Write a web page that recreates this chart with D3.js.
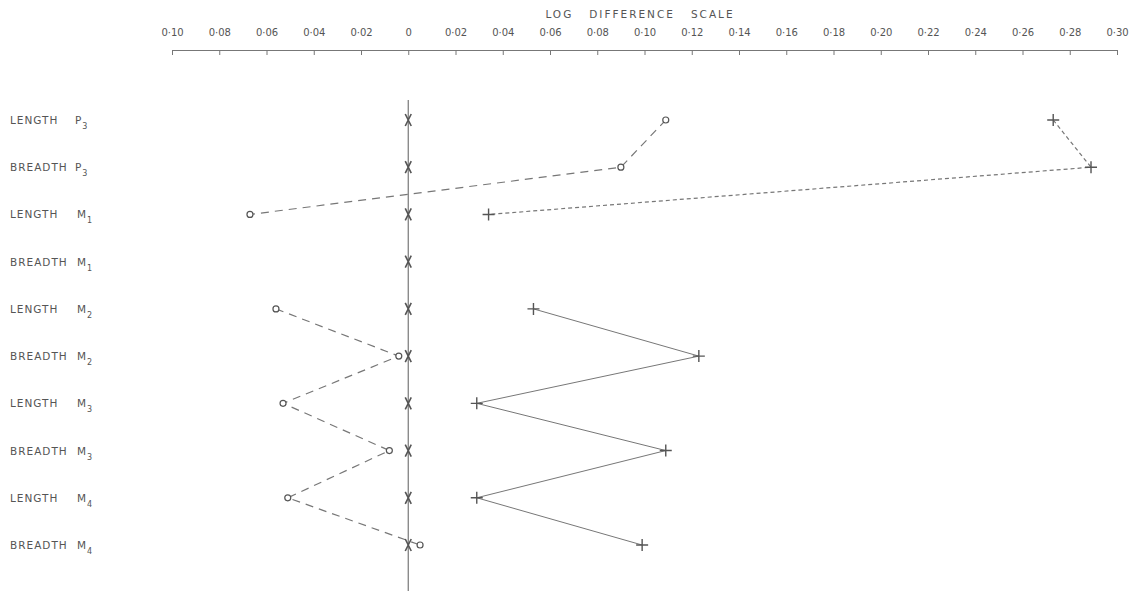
<!DOCTYPE html>
<html>
<head>
<meta charset="utf-8">
<script src="https://cdn.jsdelivr.net/npm/d3@7"></script>
<style>
  body { margin: 0; background: #fff; }
  svg text { font-family: "DejaVu Sans", sans-serif; fill: #555; }
</style>
</head>
<body>
<svg id="chart"></svg>
<script>
// rows, top to bottom
const measures = ["LENGTH", "BREADTH", "LENGTH", "BREADTH", "LENGTH", "BREADTH", "LENGTH", "BREADTH", "LENGTH", "BREADTH"];
const teeth = ["P", "P", "M", "M", "M", "M", "M", "M", "M", "M"];
const toothNums = ["3", "3", "1", "1", "2", "2", "3", "3", "4", "4"];

// log differences (null = no value)
const circleValues = [0.109, 0.090, -0.067, null, -0.056, -0.004, -0.053, -0.008, -0.051, 0.005];
const crossValues = [0.273, 0.289, 0.034, null, 0.053, 0.123, 0.029, 0.109, 0.029, 0.099];
const zeroValues = [0, 0, 0, 0, 0, 0, 0, 0, 0, 0];

const tickValues = [-0.10, -0.08, -0.06, -0.04, -0.02, 0, 0.02, 0.04, 0.06, 0.08, 0.10, 0.12, 0.14, 0.16, 0.18, 0.20, 0.22, 0.24, 0.26, 0.28, 0.30];

drawChart();

function drawChart() {
  const svgWidth = 1142;
  const svgHeight = 591;

  const svg = d3.select("#chart")
    .attr("width", svgWidth)
    .attr("height", svgHeight);

  const xScale = d3.scaleLinear()
    .domain([-0.10, 0.30])
    .range([172, 1117]);

  const yScale = d3.scalePoint()
    .domain(d3.range(measures.length))
    .range([120, 545]);

  const grey = "#777";

  // title
  svg.append("text")
    .attr("x", 640)
    .attr("y", 18)
    .attr("text-anchor", "middle")
    .attr("xml:space", "preserve")
    .style("white-space", "pre")
    .style("font-size", "10.5px")
    .style("letter-spacing", "2px")
    .text("LOG   DIFFERENCE   SCALE");

  // axis along the top, ticks hanging down, labels above
  const xAxis = d3.axisBottom(xScale)
    .tickValues(tickValues)
    .tickSize(5)
    .tickSizeOuter(0)
    .tickFormat(d => d === 0 ? "0" : d3.format(".2f")(Math.abs(d)).replace(".", "\u00b7"));

  const gx = svg.append("g")
    .attr("transform", "translate(0,50)")
    .call(xAxis);
  gx.select(".domain").attr("stroke", grey);
  gx.selectAll(".tick line").attr("stroke", grey);
  gx.selectAll(".tick text")
    .attr("y", -14)
    .attr("dy", 0)
    .style("font-size", "10px")
    .style("fill", "#555");

  // zero line
  svg.append("line")
    .attr("x1", xScale(0)).attr("x2", xScale(0))
    .attr("y1", 100).attr("y2", 591)
    .attr("stroke", grey)
    .attr("stroke-width", 1.2);

  // row labels
  const labels = svg.append("g").selectAll("g")
    .data(measures)
    .join("g")
    .attr("transform", (d, i) => `translate(0,${yScale(i) + 4})`);
  labels.append("text")
    .attr("x", 10)
    .style("font-size", "10.5px")
    .style("letter-spacing", "1px")
    .text(d => d);
  const tooth = labels.append("text")
    .attr("x", (d, i) => teeth[i] === "P" ? 75 : 77)
    .style("font-size", "10.5px");
  tooth.append("tspan").text((d, i) => teeth[i]);
  tooth.append("tspan")
    .attr("dx", 1)
    .attr("dy", 5)
    .style("font-size", "8px")
    .text((d, i) => toothNums[i]);

  const line = d3.line()
    .defined(d => d.v != null)
    .x(d => xScale(d.v))
    .y(d => yScale(d.i));

  const circlePts = circleValues.map((v, i) => ({ v, i }));
  const crossPts = crossValues.map((v, i) => ({ v, i }));

  // circle series: long dashes
  svg.append("path")
    .datum(circlePts)
    .attr("d", line)
    .attr("fill", "none")
    .attr("stroke", grey)
    .attr("stroke-width", 1.2)
    .attr("stroke-dasharray", "8,6");

  // cross series: short dashes for the premolar part, solid below
  svg.append("path")
    .datum(crossPts.slice(0, 3))
    .attr("d", line)
    .attr("fill", "none")
    .attr("stroke", grey)
    .attr("stroke-width", 1.2)
    .attr("stroke-dasharray", "4,3");
  svg.append("path")
    .datum(crossPts.slice(4))
    .attr("d", line)
    .attr("fill", "none")
    .attr("stroke", grey)
    .attr("stroke-width", 1);

  // X markers on the zero line
  svg.append("g").selectAll("path")
    .data(zeroValues)
    .join("path")
    .attr("transform", (d, i) => `translate(${xScale(d)},${yScale(i)})`)
    .attr("d", "M-3,-6L3,6M3,-6L-3,6")
    .attr("stroke", "#555")
    .attr("stroke-width", 1.6);

  // plus markers
  svg.append("g").selectAll("path")
    .data(crossPts.filter(d => d.v != null))
    .join("path")
    .attr("transform", d => `translate(${xScale(d.v)},${yScale(d.i)})`)
    .attr("d", "M-6,0H6M0,-6V6")
    .attr("stroke", "#555")
    .attr("stroke-width", 1.4);

  // open circle markers
  svg.append("g").selectAll("circle")
    .data(circlePts.filter(d => d.v != null))
    .join("circle")
    .attr("cx", d => xScale(d.v))
    .attr("cy", d => yScale(d.i))
    .attr("r", 3)
    .attr("fill", "#fff")
    .attr("stroke", "#555")
    .attr("stroke-width", 1.2);
}
</script>
</body>
</html>
